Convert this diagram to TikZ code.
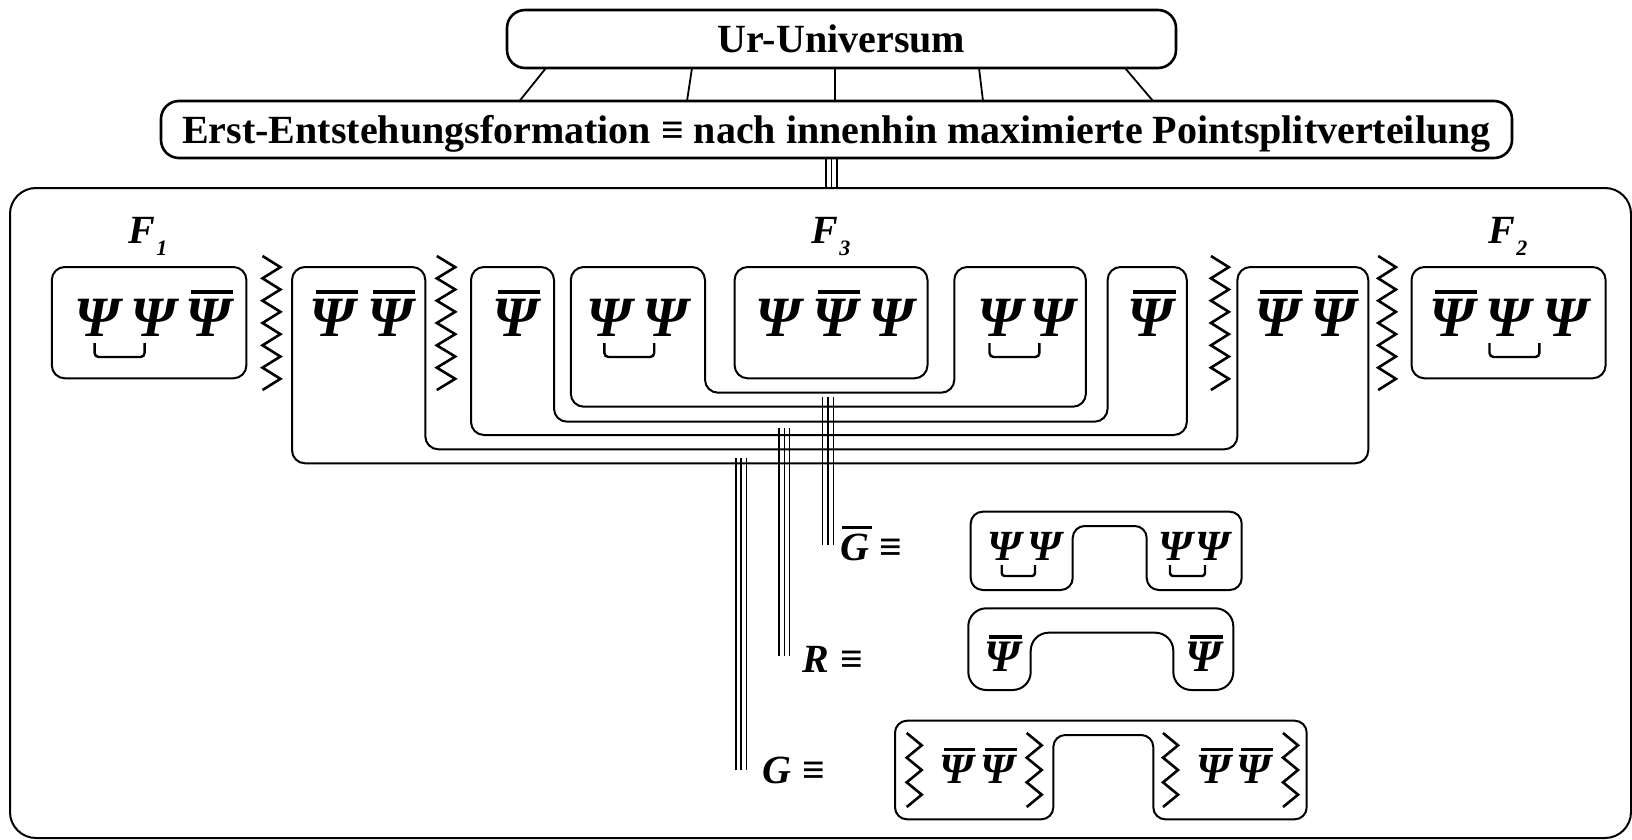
\documentclass[tikz,border=0pt]{standalone}
\usepackage{fontspec}
\setmainfont{Liberation Serif}
\usetikzlibrary{calc}
\newsavebox\psisave
\newcommand\psiq{\bfseries\itshape Ψ}
\newcommand\psibar{\sbox\psisave{\bfseries\itshape Ψ}\vbox{\offinterlineskip\hbox to \wd\psisave{\hss\kern0.14em\vrule width 0.74em height 0.078em depth 0pt\hss}\kern0.08em\box\psisave}}
\newcommand\gbar{\sbox\psisave{\bfseries\itshape G}\vbox{\offinterlineskip\hbox to \wd\psisave{\kern0.04em\vrule width 0.75em height 0.07em depth 0pt\hss}\kern0.12em\box\psisave}}
\newcommand\zigline[5]{\draw[zz] (#1,#3) \foreach \k in {1,...,#5}{ -- ({#1+(#2-#1)*mod(\k,2)},{#3+\k*(#4-#3)/#5}) };}
\tikzset{
  box/.style={draw, line width=2pt, rounded corners=13pt, inner sep=0pt},
  upath/.style={line width=2pt, rounded corners=13pt},
  psi/.style={inner sep=0pt, anchor=base, font=\fontsize{57}{57}\selectfont},
  psis/.style={inner sep=0pt, anchor=base, font=\fontsize{43}{43}\selectfont},
  zz/.style={line width=2.6pt, line join=miter},
  triple/.style={line width=1.5pt},
  brk/.style={line width=2.4pt, rounded corners=4pt},
  lab/.style={inner sep=0pt, anchor=base, font=\fontsize{40}{40}\selectfont\bfseries\itshape},
  eqv/.style={inner sep=0pt, anchor=base, font=\fontsize{40}{40}\selectfont\bfseries},
  head/.style={draw, line width=2.6pt, rounded corners=18pt, inner sep=0pt,
    font=\fontsize{40}{40}\selectfont\bfseries, text height=27pt, text depth=0pt},
  link/.style={line width=1.8pt},
}
\begin{document}
\begin{tikzpicture}[x=1pt,y=-1pt]
\useasboundingbox (0,0) rectangle (1632,840);
% top
\node[head, minimum width=669pt, minimum height=58pt] (ur) at (841.5,39) {Ur-Universum};
\node[head, minimum width=1351pt, minimum height=57pt] (erst) at (836.5,129.5)
  {Erst-Entstehungsformation ≡ nach innenhin maximierte Pointsplitverteilung};
\foreach \i/\a/\b in {1/546/519.5, 2/692/687, 3/835/835, 4/979/983, 5/1125/1153}{
  \coordinate (u\i) at (\a,68);
  \coordinate (e\i) at (\b,101);
  \draw[link] (u\i) -- (e\i);
}
% big frame
\draw[line width=2pt, rounded corners=26pt] (10,188) rectangle (1631,838);
\coordinate (t0) at (831.5,158);
\coordinate (t1) at (831.5,188);
\foreach \dx in {-5.5,0,5.5}{\draw[triple] ([xshift=\dx pt]t0) -- ([xshift=\dx pt]t1);}
% labels F
\node[lab] (F1lab) at (148,243) {F\kern1pt\raisebox{-12pt}{\fontsize{22}{22}\selectfont 1}};
\node[lab] (F3lab) at (831,243) {F\kern1pt\raisebox{-12pt}{\fontsize{22}{22}\selectfont 3}};
\node[lab] (F2lab) at (1508,243) {F\kern1pt\raisebox{-12pt}{\fontsize{22}{22}\selectfont 2}};
% boxes
\node[box, minimum width=194.6pt, minimum height=111.3pt] (F1box) at (149.1,322.65) {};
\node[box, minimum width=194.1pt, minimum height=111.3pt] (F2box) at (1508.55,322.65) {};
\node[box, minimum width=192.9pt, minimum height=111.3pt] (inbox) at (831.05,322.65) {};
% nested U shapes
\draw[upath] (292,267) -- (292,463.3) -- (1368.3,463.3) -- (1368.3,267) -- (1237.4,267)
  -- (1237.4,449.3) -- (425.3,449.3) -- (425.3,267) -- cycle;
\draw[upath] (471,267) -- (471,435) -- (1186.8,435) -- (1186.8,267) -- (1107.6,267)
  -- (1107.6,421.7) -- (554,421.7) -- (554,267) -- cycle;
\draw[upath] (570.8,267) -- (570.8,406.7) -- (1085.9,406.7) -- (1085.9,267) -- (954.3,267)
  -- (954.3,392.7) -- (705,392.7) -- (705,267) -- cycle;
% zigzags
\zigline{262.5}{280.4}{256}{390}{12}
\zigline{436.8}{455.2}{256}{390}{12}
\zigline{1210.9}{1228.8}{256}{390}{12}
\zigline{1378.2}{1395.9}{256}{390}{12}
% psi row
\node[psi] (f1a) at (97.4,336) {\psiq};
\node[psi] (f1b) at (153.6,336) {\psiq};
\node[psi] (f1c) at (208,336) {\psibar};
\node[psi] (oa) at (332.7,336) {\psibar};
\node[psi] (ob) at (390,336) {\psibar};
\node[psi] (sa) at (514.8,336) {\psibar};
\node[psi] (ta) at (609.5,336) {\psiq};
\node[psi] (tb) at (665.6,336) {\psiq};
\node[psi] (ia) at (778.5,336) {\psiq};
\node[psi] (ib) at (835,336) {\psibar};
\node[psi] (ic) at (891,336) {\psiq};
\node[psi] (tc) at (999.8,336) {\psiq};
\node[psi] (td) at (1052.3,336) {\psiq};
\node[psi] (sb) at (1150.5,336) {\psibar};
\node[psi] (oc) at (1277,336) {\psibar};
\node[psi] (od) at (1333,336) {\psibar};
\node[psi] (f2a) at (1452,336) {\psibar};
\node[psi] (f2b) at (1508,336) {\psiq};
\node[psi] (f2c) at (1565,336) {\psiq};
% brackets
\foreach \a/\b in {94.6/144.6, 604.4/654.2, 989.5/1039.4, 1489.5/1539.4}{
  \draw[brk] (\a,343) -- (\a,357) -- (\b,357) -- (\b,343);
}
% triple connectors
\coordinate (gbt) at (828,396.7);  \coordinate (gbb) at (828,545);
\coordinate (rt) at (784.3,427.7); \coordinate (rb) at (784.3,656);
\coordinate (gt) at (741.2,458.3); \coordinate (gb) at (741.2,770);
\foreach \dx in {-5.4,0,5.4}{
  \draw[triple] ([xshift=\dx pt]gbt) -- ([xshift=\dx pt]gbb);
  \draw[triple] ([xshift=\dx pt]rt) -- ([xshift=\dx pt]rb);
  \draw[triple] ([xshift=\dx pt]gt) -- ([xshift=\dx pt]gb);
}
% labels
\node[lab] (Gbarlab) at (854.5,560) {\gbar};
\node[eqv] (Gbareq) at (890.5,560) {≡};
\node[lab] (Rlab) at (815.5,672) {R};
\node[eqv] (Req) at (851.5,672) {≡};
\node[lab] (Glab) at (777.3,783) {G};
\node[eqv] (Geq) at (813.8,783) {≡};
% G-bar box
\draw[upath, rounded corners=12pt] (970.7,511.7) -- (1241.7,511.7) -- (1241.7,590) -- (1146.7,590)
  -- (1146.7,526) -- (1072.7,526) -- (1072.7,590) -- (970.7,590) -- cycle;
\node[psis] (gba) at (1005,560) {\psiq};
\node[psis] (gbbq) at (1045,560) {\psiq};
\node[psis] (gbc) at (1176,560) {\psiq};
\node[psis] (gbd) at (1213,560) {\psiq};
\draw[brk, rounded corners=3pt] (1001.7,565) -- (1001.7,576) -- (1035,576) -- (1035,565);
\draw[brk, rounded corners=3pt] (1170,565) -- (1170,576) -- (1205,576) -- (1205,565);
% R box
\draw[upath, rounded corners=18pt] (968.3,608.3) -- (1233.3,608.3) -- (1233.3,690) -- (1173.3,690)
  -- (1173.3,632.7) -- (1030.7,632.7) -- (1030.7,690) -- (968.3,690) -- cycle;
\node[psis, font=\fontsize{45}{45}\selectfont] (ra) at (1002.5,671.7) {\psibar};
\node[psis, font=\fontsize{45}{45}\selectfont] (rbq) at (1203,671.7) {\psibar};
% G box
\draw[upath, rounded corners=12pt] (895,720.7) -- (1306.7,720.7) -- (1306.7,819.3) -- (1153.3,819.3)
  -- (1153.3,735) -- (1053.3,735) -- (1053.3,819.3) -- (895,819.3) -- cycle;
\zigline{906.7}{921.7}{733}{807}{6}
\zigline{1026.7}{1041.7}{733}{807}{6}
\zigline{1163}{1178}{733}{807}{6}
\zigline{1283}{1298}{733}{807}{6}
\node[psis] (ga) at (956.5,783) {\psibar};
\node[psis] (gbq2) at (998,783) {\psibar};
\node[psis] (gc) at (1214,783) {\psibar};
\node[psis] (gd) at (1254,783) {\psibar};
\end{tikzpicture}
\end{document}
